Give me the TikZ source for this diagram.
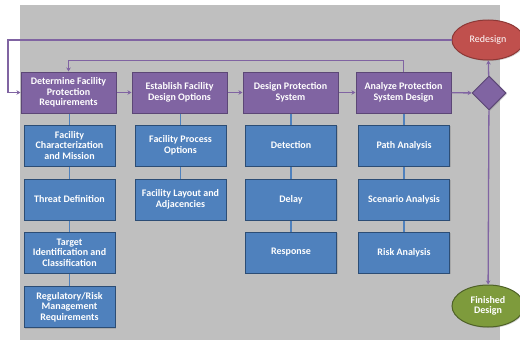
\documentclass[tikz,border=0pt]{standalone}
\usepackage{fontspec}
\setmainfont{Carlito}
\usetikzlibrary{shapes.geometric,arrows.meta,shadows}
\definecolor{bgg}{HTML}{BFBFBF}
\definecolor{pfill}{HTML}{8064A2}
\definecolor{pdraw}{HTML}{5C4776}
\definecolor{bfill}{HTML}{4F81BD}
\definecolor{bdraw}{HTML}{2C4D75}
\definecolor{rfill}{HTML}{C0504D}
\definecolor{rdraw}{HTML}{8C3836}
\definecolor{gfill}{HTML}{7E9B3C}
\definecolor{gdraw}{HTML}{4F6228}
\definecolor{pline}{HTML}{8064A2}
\begin{document}
\begin{tikzpicture}[x=1pt,y=-1pt,
  txt/.style={text=white,font=\bfseries\fontsize{10}{10.5}\selectfont,align=center,inner sep=1pt},
  pbox/.style={txt,draw=pdraw,fill=pfill,line width=1pt,minimum width=95pt,minimum height=41pt,
     drop shadow={opacity=0.35,shadow xshift=1pt,shadow yshift=-1pt}},
  bbox/.style={txt,draw=bdraw,fill=bfill,line width=1pt,minimum width=91pt,minimum height=41pt,
     drop shadow={opacity=0.35,shadow xshift=1pt,shadow yshift=-1pt}},
  arr/.style={draw=pline,line width=1.3pt,-{Stealth[length=4pt,width=4.5pt]}},
  bl/.style={draw=bfill,line width=1.2pt}]
\useasboundingbox (0,0) rectangle (520,340);
\fill[bgg] (20,5) rectangle (500,340);

% purple process boxes
\node[pbox] (p1) at (68.5,92.5) {Determine Facility\\Protection\\Requirements};
\node[pbox] (p2) at (179.5,92.5) {Establish Facility\\Design Options};
\node[pbox] (p3) at (290.5,92.5) {Design Protection\\System};
\node[pbox] (p4) at (403.5,92.5) {Analyze Protection\\System Design};

% diamond and terminals
\node[diamond,aspect=1,minimum size=34pt,inner sep=0pt,draw=pdraw,fill=pfill,line width=1pt,
  drop shadow={opacity=0.35,shadow xshift=1pt,shadow yshift=-1pt}] (d) at (489,93) {};
\node[ellipse,minimum width=72pt,minimum height=40pt,draw=rdraw,fill=rfill,line width=1pt,
  text=white,font=\fontsize{10}{10.5}\selectfont,
  drop shadow={opacity=0.35,shadow xshift=1pt,shadow yshift=-1pt}] (red) at (488,40) {Redesign};
\node[ellipse,minimum width=72pt,minimum height=42pt,draw=gdraw,fill=gfill,line width=1pt,
  txt,align=center,
  drop shadow={opacity=0.35,shadow xshift=1pt,shadow yshift=-1pt}] (fin) at (488,306) {Finished\\Design};

% vertical blue connectors (drawn before blue boxes)
\coordinate (c1) at (69.5,0); \coordinate (c2) at (180.5,0);
\coordinate (c3) at (291,0);  \coordinate (c4) at (404,0);
\draw[bl] (p1.south -| c1) -- (c1 |- 0,286);
\draw[bl] (p2.south -| c2) -- (c2 |- 0,179);
\draw[bl] (p3.south -| c3) -- (c3 |- 0,232);
\draw[bl] (p4.south -| c4) -- (c4 |- 0,232);

% blue task boxes
\node[bbox] (b11) at (69.5,145.5) {Facility\\Characterization\\and Mission};
\node[bbox] (b12) at (69.5,199.5) {Threat Definition};
\node[bbox] (b13) at (69.5,252.5) {Target\\Identification and\\Classification};
\node[bbox] (b14) at (69.5,307) {Regulatory/Risk\\Management\\Requirements};
\node[bbox] (b21) at (180.5,145.5) {Facility Process\\Options};
\node[bbox] (b22) at (180.5,199.5) {Facility Layout and\\Adjacencies};
\node[bbox] (b31) at (291,145.5) {Detection};
\node[bbox] (b32) at (291,199.5) {Delay};
\node[bbox] (b33) at (291,252.5) {Response};
\node[bbox] (b41) at (404,145.5) {Path Analysis};
\node[bbox] (b42) at (404,199.5) {Scenario Analysis};
\node[bbox] (b43) at (404,252.5) {Risk Analysis};

% flow arrows
\draw[arr] (p1) -- (p2);
\draw[arr] (p2) -- (p3);
\draw[arr] (p3) -- (p4);
\draw[arr] (p4) -- (d);
\draw[arr] (d) -- (red);
\draw[arr] (d) -- (fin);

% loops
\coordinate (lx) at (8,39);
\coordinate (ty) at (0,60.5);
\draw[arr] (red.west) -- (red.west -| lx) |- (p1.west);
\draw[arr] (p4.north) |- (p1.north |- ty) -- (p1.north);
\end{tikzpicture}
\end{document}
